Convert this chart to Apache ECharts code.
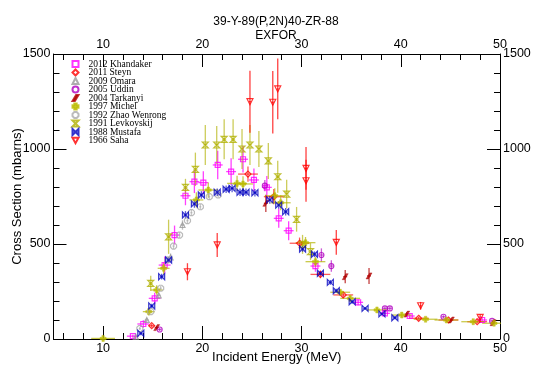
<!DOCTYPE html>
<html><head><meta charset="utf-8">
<script src="https://cdn.jsdelivr.net/npm/echarts@6/dist/echarts.min.js"></script>
<style>html,body{margin:0;padding:0;background:#fff}#c{width:536px;height:367px}</style>
</head><body><div id="c"></div>
<script>
// rows: [E (MeV), sigma (mb), dSigma (mb), dE (MeV)]
const khandaker2012 = [[13.0,15,8,0.6],[14.05,79,20,0.6],[15.2,214,30,0.6],[16.2,389,45,0.6],[17.2,547,50,0.5],[18.3,754,50,0.5],[19.2,828,60,0.5],[20.1,823,60,0.5],[21.55,916,75,0.5],[22.9,881,70,0.5],[24.1,946,70,0.5],[25.2,837,60,0.5],[26.5,798,60,0.5],[27.7,635,50,0.5],[28.7,570,50,0.5],[31.4,384,30,0.5],[35.7,193,15,0.5],[38.4,135,12,0.5],[40.9,121,10,0.5],[48.2,100,10,0.5]];
const steyn2011 = [[14.9,70,10,0.3],[24.6,868,40,1.0],[27.2,749,40,1.0],[29.8,504,30,1.0],[31.9,340,20,1.0],[34.2,232,15,1.0],[41.8,109,8,1.0],[44.8,100,8,1.0],[47.7,91,8,1.0]];
const omara2009 = [[13.3,12,5,0.2],[14.4,100,10,0.2],[15.6,230,15,0.2],[16.8,430,20,0.2],[18.0,600,25,0.2]];
const uddin2005 = [[15.7,50,8,0.2],[26.3,807,30,0.2],[32.0,442,35,0.2],[33.0,384,30,0.2],[38.4,161,10,0.2],[38.9,161,10,0.2],[44.3,117,8,0.2],[49.2,95,8,0.2]];
const tarkanyi2004 = [[15.4,60,8,0.2],[26.4,714,45,0.2],[34.4,328,35,0.2],[36.8,332,42,0.2],[40.6,131,10,0.2],[45.1,100,8,0.2],[49.3,86,8,0.2]];
const michel1997 = [[10.0,3,3,1.2],[14.6,144,20,0.6],[15.4,258,25,0.6],[16.1,372,30,0.6],[19.4,732,40,0.7],[20.6,784,40,1.0],[23.5,819,40,1.0],[24.1,816,40,1.0],[27.3,754,40,1.0],[27.9,717,40,1.0],[30.4,507,30,1.0],[31.4,407,25,1.0],[33.9,246,15,1.0],[34.9,214,15,1.0],[37.6,153,10,1.0],[40.1,126,10,1.0],[42.5,104,8,1.2],[44.6,100,8,1.2],[47.3,91,8,1.2],[49.4,83,8,1.2]];
const zhao1992 = [[13.7,55,8,0.1],[14.8,144,10,0.1],[15.8,267,12,0.1],[16.5,416,15,0.1],[17.1,489,15,0.1],[17.7,547,15,0.1],[18.5,623,15,0.1],[18.9,665,15,0.1],[19.8,696,15,0.1],[20.7,749,15,0.1],[21.6,758,15,0.1]];
const levkovskij1991 = [[14.8,293,40,0.2],[16.6,538,90,0.2],[18.3,798,45,0.2],[19.3,893,88,0.2],[20.3,1021,105,0.2],[21.45,1021,100,0.2],[22.2,1051,105,0.2],[23.1,1051,105,0.2],[24.0,1000,105,0.2],[24.8,1021,105,0.2],[25.7,1000,95,0.2],[26.65,937,95,0.2],[27.6,854,84,0.2],[28.5,763,75,0.2],[29.5,630,65,0.2],[30.1,498,50,0.2],[30.9,460,45,0.2]];
const mustafa1988 = [[13.8,30,10,0.2],[14.9,174,12,0.2],[15.9,328,15,0.2],[16.6,416,15,0.2],[18.3,653,20,0.2],[19.2,711,20,0.2],[19.9,758,20,0.2],[21.5,772,20,0.2],[22.4,788,20,0.2],[23.0,793,20,0.2],[23.8,772,20,0.2],[24.4,772,20,0.2],[25.3,770,20,0.2],[26.8,732,20,0.2],[27.7,705,20,0.2],[28.4,670,20,0.2],[30.1,474,15,0.2],[31.3,446,15,0.2],[31.9,346,12,0.2],[32.9,298,12,0.2],[33.5,254,10,0.2],[35.1,196,10,0.2],[36.4,161,8,0.2],[38.1,132,8,0.2],[39.4,112,8,0.2]];
const saha1966 = [[18.5,354,45,0.1],[21.5,495,63,0.1],[24.8,1249,163,0.1],[27.1,1246,165,0.1],[27.6,1316,160,0.1],[30.45,898,112,0.1],[30.45,833,110,0.1],[33.5,509,65,0.1],[42.0,175,20,0.1],[48.0,114,15,0.1]];

const seriesNames = ['2012 Khandaker','2011 Steyn','2009 Omara','2005 Uddin','2004 Tarkanyi','1997 Michel','1992 Zhao Wenrong','1991 Levkovskij','1988 Mustafa','1966 Saha'];
const xMajorTicks = [10,20,30,40,50];
const xMinorTicks = [6,8,12,14,16,18,22,24,26,28,32,34,36,38,42,44,46,48];
const titleLines = ['39-Y-89(P,2N)40-ZR-88','EXFOR'];
const xName = 'Incident Energy (MeV)';
const yName = 'Cross Section (mbarns)';

const styles = [
  {data:khandaker2012, symbol:'rect', size:5, color:'#ff00ff', open:true, bar:'rgba(255,0,255,0.75)'},
  {data:steyn2011, symbol:'diamond', size:6, color:'#ff0000', open:true, bar:'rgba(255,0,0,0.65)'},
  {data:omara2009, symbol:'triangle', size:5, color:'#999999', open:true, bar:'rgba(150,150,150,0.6)'},
  {data:uddin2005, symbol:'circle', size:5, color:'#b000c0', open:true, bar:'rgba(176,0,192,0.65)'},
  {data:tarkanyi2004, symbol:'path://M0,10 L6,0 L10,0 L4,10 Z', size:6, color:'#b00000', open:false, bar:'rgba(176,0,0,0.75)'},
  {data:michel1997, symbol:'path://M3,0 H7 V3 H10 V7 H7 V10 H3 V7 H0 V3 H3 Z', size:6, color:'#bcbc00', open:false, bar:'rgba(180,180,0,0.7)'},
  {data:zhao1992, symbol:'path://M3,0 H7 L10,3 V7 L7,10 H3 L0,7 V3 Z', size:6, color:'#aaaaaa', open:true, bar:'rgba(170,170,170,0.65)'},
  {data:levkovskij1991, symbol:'path://M0,0 H10 L0,10 H10 Z', size:6, color:'#b0b000', open:true, bar:'rgba(176,176,0,0.65)'},
  {data:mustafa1988, symbol:'path://M0,0 V10 L10,0 V10 Z', size:6, color:'#0000c0', open:true, bar:'rgba(0,0,192,0.65)'},
  {data:saha1966, symbol:'path://M0,0 H10 L5,9 Z', size:6, color:'#ff0000', open:true, bar:'rgba(255,0,0,0.75)'}
];

const series = [];
styles.forEach((s, i) => {
  series.push({
    type:'custom', name: seriesNames[i] + ' err', data: s.data, z: 2, clip: true,
    encode:{x:0, y:1},
    renderItem(params, api) {
      const x = api.value(0), y = api.value(1), dy = api.value(2), dx = api.value(3);
      const p0 = api.coord([x, y - dy]), p1 = api.coord([x, y + dy]);
      const q0 = api.coord([x - dx, y]), q1 = api.coord([x + dx, y]);
      const st = {stroke: s.bar, lineWidth: 1.3};
      return {type:'group', children:[
        {type:'line', shape:{x1:p0[0],y1:p0[1],x2:p1[0],y2:p1[1]}, style:st},
        {type:'line', shape:{x1:q0[0],y1:q0[1],x2:q1[0],y2:q1[1]}, style:st}
      ]};
    }
  });
});
styles.forEach((s, i) => {
  series.push({
    type:'scatter', name: seriesNames[i], data: s.data, z: 3 + i * 0.01,
    symbol: s.symbol, symbolSize: s.size, clip: true,
    itemStyle: s.open ? {color:'rgba(255,255,255,0)', borderColor:s.color, borderWidth:1.2}
                      : {color:s.color, borderColor:s.color, borderWidth:0.5}
  });
});

const axisFont = {fontFamily:'Liberation Sans, Arial, sans-serif', fontSize:12.5, color:'#000'};
const lineStyle = {color:'#000', width:1};
const plain = v => String(v);
function xAx(pos, ticks, len, labels) {
  return {
    type:'value', min:5, max:50, position:pos, gridIndex:0,
    axisLine:{show:labels, onZero:false, lineStyle},
    axisTick:{show:true, inside:true, length:len, customValues:ticks, lineStyle},
    axisLabel: labels ? Object.assign({show:true, margin:3, customValues:ticks, formatter:plain}, axisFont) : {show:false},
    splitLine:{show:false}
  };
}
const xAxes = [xAx('bottom', xMajorTicks, 13, true), xAx('bottom', xMinorTicks, 6, false),
               xAx('top', xMajorTicks, 13, true), xAx('top', xMinorTicks, 6, false)];
xAxes[0].name = xName; xAxes[0].nameLocation = 'middle'; xAxes[0].nameGap = 12; xAxes[0].nameMoveOverlap = false;
xAxes[0].nameTextStyle = {fontFamily:'Liberation Sans, Arial, sans-serif', fontSize:13, color:'#000'};

function yAx(pos) {
  return {
    type:'value', min:0, max:1500, interval:500, position:pos,
    axisLine:{show:true, onZero:false, lineStyle},
    axisTick:{show:true, inside:true, length:13, lineStyle},
    minorTick:{show:true, splitNumber:5, length:6, lineStyle},
    axisLabel: Object.assign({margin:3, formatter:plain}, axisFont),
    splitLine:{show:false}
  };
}
const yAxes = [yAx('left'), yAx('right')];
yAxes[0].name = yName; yAxes[0].nameLocation = 'middle'; yAxes[0].nameGap = 30; yAxes[0].nameMoveOverlap = false;
yAxes[0].nameTextStyle = {fontFamily:'Liberation Sans, Arial, sans-serif', fontSize:13, color:'#000'};

const chart = echarts.init(document.getElementById('c'), null, {renderer:'canvas'});
chart.setOption({
  animation:false,
  backgroundColor:'#fff',
  title:{text:titleLines.join('\n'), left:271, textAlign:'center', top:10,
    textStyle:{fontFamily:'Liberation Sans, Arial, sans-serif', fontSize:12, fontWeight:'normal', color:'#000', lineHeight:13.5}},
  grid:{left:53.5, top:54, right:36, bottom:28, containLabel:false, outerBoundsMode:'none'},
  legend:{data:seriesNames, orient:'vertical', left:71.5, top:59, padding:0,
    itemWidth:6, itemHeight:6, itemGap:-1.5, selectedMode:false,
    textStyle:{fontFamily:'Liberation Serif, Times New Roman, serif', fontSize:9.5, lineHeight:6, color:'#000', padding:[0,0,0,5]}},
  xAxis: xAxes,
  yAxis: yAxes,
  series
});
</script></body></html>
